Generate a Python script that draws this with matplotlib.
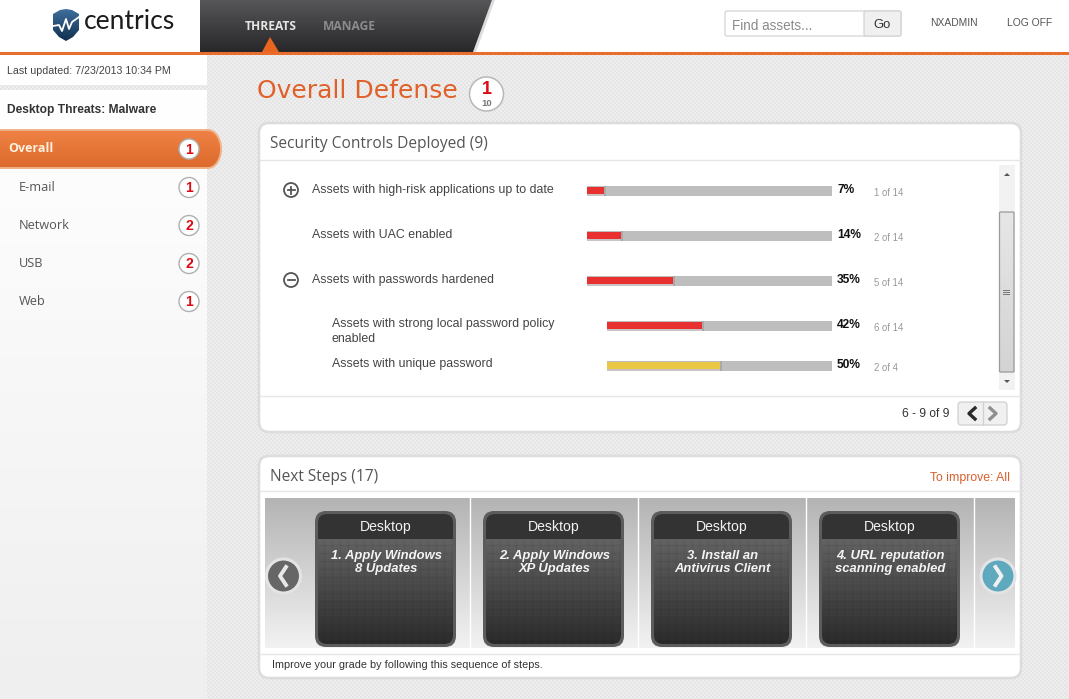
import numpy as np
import matplotlib
matplotlib.use('Agg')
import matplotlib.pyplot as plt
from matplotlib.patches import FancyBboxPatch, Polygon, Circle, Rectangle
from matplotlib.colors import LinearSegmentedColormap

W, H = 1069, 699
SANS = ['Liberation Sans', 'DejaVu Sans']
HEAD = ['Open Sans', 'DejaVu Sans']

# chart values
control_labels = ['Assets with high-risk applications up to date', 'Assets with UAC enabled',
                  'Assets with passwords hardened', 'Assets with strong local password policy\nenabled',
                  'Assets with unique password']
control_pcts = [7, 14, 35, 42, 50]
control_counts = ['1 of 14', '2 of 14', '5 of 14', '6 of 14', '2 of 4']
control_colors = ['#e83030', '#e83030', '#e83030', '#e83030', '#eac845']

nav_labels = ['E-mail', 'Network', 'USB', 'Web']
nav_scores = [1, 2, 2, 1]
step_titles = ['1. Apply Windows\n8 Updates', '2. Apply Windows\nXP Updates',
               '3. Install an\nAntivirus Client', '4. URL reputation\nscanning enabled']

fig = plt.figure(figsize=(W / 100, H / 100), dpi=100)
ax = fig.add_axes([0, 0, 1, 1])


def px(size):
    return size * 72 / 100


def label(x, y, s, size=12, color='#444444', ha='left', va='center', family=SANS, **kw):
    return ax.text(x, y, s, fontsize=px(size), color=color, ha=ha, va=va, family=family, **kw)


def gradient(x0, y0, x1, y1, top, bottom, clip=None, z=1):
    cmap = LinearSegmentedColormap.from_list('g', [top, bottom])
    im = ax.imshow(np.linspace(0, 1, 64).reshape(-1, 1), cmap=cmap, extent=[x0, x1, y1, y0],
                   aspect='auto', zorder=z, interpolation='bilinear')
    if clip is not None:
        im.set_clip_path(clip)
    return im


def rbox(x0, y0, x1, y1, r, **kw):
    p = FancyBboxPatch((x0 + r, y0 + r), x1 - x0 - 2 * r, y1 - y0 - 2 * r,
                       boxstyle='round,pad=%f,rounding_size=%f' % (r, r), **kw)
    ax.add_patch(p)
    return p


def badge(x, y, r, s, size=14, fc='white'):
    ax.add_patch(Circle((x, y), r, fc=fc, ec='#b0b0b0', lw=1.0, zorder=6))
    label(x, y + 0.5, s, size=size, color='#dd0a14', ha='center', weight='bold', zorder=7)


# page background, fine dither
yy, xx = np.mgrid[0:H, 0:W]
ax.imshow(((xx // 2 + yy // 2) % 2) * 0.035 + 0.895, cmap='gray', vmin=0, vmax=1, extent=[0, W, H, 0],
          aspect='auto', zorder=0, interpolation='nearest')

# sidebar
ax.add_patch(Rectangle((0, 55), 207, 30, fc='white', ec='none', zorder=1))
gradient(0, 90, 207, H, '#ffffff', '#efefef', z=1)
label(7, 70.5, 'Last updated: 7/23/2013 10:34 PM', size=10.6, color='#444444', zorder=3)
label(7, 110.5, 'Desktop Threats: Malware', size=12, color='#333333', weight='bold', zorder=3)

theta = np.linspace(-np.pi / 2, np.pi / 2, 30)
sel_xy = [(-2, 130)] + [(208 + 13 * np.cos(t), 149 + 19 * np.sin(t)) for t in theta] + [(-2, 168)]
sel = Polygon(sel_xy, closed=True, fc='none', ec='none')
ax.add_patch(sel)
gradient(-2, 130, 222, 168, '#ee8244', '#dc6a2c', clip=sel, z=2)
ax.add_patch(Polygon(sel_xy, closed=True, fc='none', ec='#f0b088', lw=1.4, zorder=3))
label(8.5, 149, 'Overall', size=12.5, color='#fdf0e0', weight='bold', family=HEAD, zorder=4)
badge(189, 149, 10, '1', fc='white')
for i, (name, score) in enumerate(zip(nav_labels, nav_scores)):
    y = 187 + i * 38
    label(19, y + 0.7, name, size=12.8, color='#555555', family=HEAD, zorder=4)
    badge(189, y + 0.5, 10, str(score))

# top bar
ax.add_patch(Rectangle((0, 0), W, 52, fc='white', ec='none', zorder=2))
ax.add_patch(Polygon([(492, 0), (495, 0), (476, 52), (473, 52)], fc='#dddddd', ec='none', zorder=2))
hdr = Polygon([(200, 0), (492, 0), (473, 52), (200, 52)], closed=True, fc='none', ec='none')
ax.add_patch(hdr)
gradient(200, 0, 500, 52, '#565658', '#28282a', clip=hdr, z=3)
ax.add_patch(Rectangle((0, 52), W, 3, fc='#e96d2f', ec='none', zorder=4))
ax.add_patch(Polygon([(262, 52), (270, 37), (279, 52)], fc='#e8651f', ec='none', zorder=4))
label(270.5, 26, 'THREATS', size=12, color='#e4e4e4', ha='center', weight='bold', family=HEAD, zorder=5)
label(349, 26, 'MANAGE', size=12, color='#8b8b8b', ha='center', weight='bold', family=HEAD, zorder=5)

# logo
shield = Polygon([(53, 14), (60, 10), (66, 9), (72, 10), (79, 14), (79, 30), (73, 37), (66, 41),
                  (59, 37), (53, 30)], closed=True, fc='none', ec='none')
ax.add_patch(shield)
gradient(53, 9, 79, 41, '#3f6f9c', '#10304f', clip=shield, z=3)
ax.plot([53, 59, 62, 66, 69, 72, 79], [26, 25, 31, 19, 29, 22, 17], color='white', lw=1.3, zorder=4)
label(84, 21.5, 'centrics', size=26.5, color='#1c1c1c', family=['Lato', 'DejaVu Sans'], zorder=4)

# search box
rbox(725, 11, 901, 36, 2, fc='white', ec='#d4d4d4', lw=0.9, zorder=3)
rbox(864, 11, 901, 36, 2, fc='#f0f0f0', ec='#d4d4d4', lw=0.9, zorder=4)
label(732, 25.5, 'Find assets...', size=13.5, color='#8a8a8a', zorder=5)
label(882.5, 25.5, 'Go', size=13, color='#333333', ha='center', zorder=5)
label(953.5, 23, 'NXADMIN', size=10.2, color='#555555', ha='center', zorder=5)
label(1029.5, 23, 'LOG OFF', size=10.2, color='#555555', ha='center', zorder=5)

# page title
label(257, 91.5, 'Overall Defense', size=25, color='#e0602a', family=['DejaVu Sans'], zorder=3)
ax.add_patch(Circle((486.5, 94), 17, fc='white', ec='#b8b8b8', lw=1.1, zorder=3))
label(486.5, 90, '1', size=18, color='#dd0a14', ha='center', weight='bold', zorder=4)
label(486.5, 103.5, '10', size=9.5, color='#777777', ha='center', weight='bold', zorder=4)

# controls panel
rbox(259, 123, 1021, 432, 10, fc='white', ec='#dcdcdc', lw=1.8, zorder=2)
ax.plot([260, 1020], [159.5, 159.5], color='#e6e6e6', lw=1, zorder=3)
ax.plot([260, 1020], [395.5, 395.5], color='#e6e6e6', lw=1, zorder=3)
label(270, 144, 'Security Controls Deployed (9)', size=15.5, color='#555555', family=HEAD, zorder=3)

row_y = [190.7, 235.7, 280.7, 325.7, 365.7]
text_y = [189.5, 234.5, 279.5, 324.5, 364.5]
bar_x = [587, 587, 587, 607, 607]
bar_end = 832
for i in range(len(control_pcts)):
    span = bar_end - bar_x[i]
    done = span * control_pcts[i] / 100
    ax.barh(row_y[i], span, left=bar_x[i], height=10, color='#bebebe', zorder=3)
    # soft edge under and after the filled part
    ax.barh(row_y[i] + 4, done, left=bar_x[i], height=2, color='#c9c3c3', zorder=4)
    ax.barh(row_y[i], 2, left=bar_x[i] + done, height=10, color='#a9a9a9', zorder=4)
    ax.barh(row_y[i] - 0.5, done, left=bar_x[i], height=7, color=control_colors[i], zorder=5)
    x_text = 312 if i < 3 else 332
    parts = control_labels[i].split('\n')
    for j, part in enumerate(parts):
        label(x_text, text_y[i] + 14 * j, part, size=12.45, zorder=4)
    label(837, row_y[i] - 0.7, '%d%%' % control_pcts[i], size=12, color='#111111', weight='bold', zorder=4)
    label(874, row_y[i] + 2.3, control_counts[i], size=9.7, color='#999999', zorder=4)

# expand / collapse icons
for y, sym in [(190, '+'), (280, '-')]:
    ax.add_patch(Circle((291, y), 7, fc='white', ec='#555555', lw=1.3, zorder=4))
    ax.plot([287.5, 294.5], [y, y], color='#555555', lw=1.3, zorder=5)
    if sym == '+':
        ax.plot([291, 291], [y - 3.5, y + 3.5], color='#555555', lw=1.3, zorder=5)

# scrollbar
ax.add_patch(Rectangle((999, 165), 16, 225, fc='#f2f2f2', ec='none', zorder=3))
thumb = rbox(999.5, 212, 1014, 372, 1, fc='none', ec='#9a9a9a', lw=0.9, zorder=5)
gradient(1000, 212, 1014, 372, '#e6e6e6', '#d4d4d4', clip=thumb, z=4)
for dy in (-2, 0, 2):
    ax.plot([1003, 1009], [292 + dy, 292 + dy], color='#777777', lw=0.7, zorder=6)
ax.add_patch(Polygon([(1004, 176), (1007, 173), (1010, 176)], fc='#555555', ec='none', zorder=4))
ax.add_patch(Polygon([(1004, 380), (1007, 383), (1010, 380)], fc='#555555', ec='none', zorder=4))

# pager
label(949, 414, '6 - 9 of 9', size=12, color='#333333', ha='right', zorder=4)
rbox(958, 402, 1007, 425, 3, fc='#f0f0f0', ec='#d0d0d0', lw=0.9, zorder=4)
ax.plot([982.5, 982.5], [402, 425], color='#d0d0d0', lw=0.9, zorder=5)
ax.plot([975, 969, 975], [408, 413.5, 419], color='#2a2a2a', lw=2.4, zorder=5)
ax.plot([990, 996, 990], [408, 413.5, 419], color='#8f8f8f', lw=2.4, zorder=5)

# next steps panel
rbox(259, 456, 1021, 678, 10, fc='white', ec='#dcdcdc', lw=1.8, zorder=2)
ax.plot([260, 1020], [490.5, 490.5], color='#e6e6e6', lw=1, zorder=3)
ax.plot([260, 1020], [653.5, 653.5], color='#e6e6e6', lw=1, zorder=3)
label(270, 477, 'Next Steps (17)', size=15.5, color='#555555', family=HEAD, zorder=3)
label(1010, 477.5, 'To improve: All', size=12.2, color='#d8602c', ha='right', zorder=3)
label(272, 665.5, 'Improve your grade by following this sequence of steps.', size=10.9, color='#333333', zorder=3)

gradient(265, 498, 1015, 648, '#b4b4b4', '#f2f2f2', z=3)
for x in (469.5, 637.5, 805.5, 973.5):
    ax.plot([x, x], [498, 648], color='white', lw=1, zorder=4)

for i, title in enumerate(step_titles):
    x0 = 315 + 168 * i
    x1 = x0 + 141
    rbox(x0, 511, x1, 647, 11, fc='#5c5c5c', ec='none', zorder=5)
    inner = rbox(x0 + 3, 514, x1 - 3, 644, 9, fc='none', ec='none', zorder=5)
    gradient(x0 + 3, 539, x1 - 3, 644, '#626262', '#2c2c2c', clip=inner, z=6)
    # mosaic texture on the card
    for gx in range(x0 + 9, x1 - 3, 8):
        ln, = ax.plot([gx, gx], [539, 644], color='black', alpha=0.05, lw=0.8, zorder=6.5)
        ln.set_clip_path(inner)
    for gy in range(545, 644, 8):
        ln, = ax.plot([x0 + 3, x1 - 3], [gy, gy], color='black', alpha=0.05, lw=0.8, zorder=6.5)
        ln.set_clip_path(inner)
    ax.add_patch(Rectangle((x0 + 3, 514), 135, 25, fc='#333333', ec='none', zorder=7)).set_clip_path(inner)
    label(x0 + 71, 527, 'Desktop', size=14, color='#f2f2f2', ha='center', zorder=8)
    line1, line2 = title.split('\n')
    label(x0 + 71.5, 556, line1, size=13, color='#f4f4f4', ha='center', weight='bold',
          style='italic', zorder=8)
    label(x0 + 71.5, 569, line2, size=13, color='#f4f4f4', ha='center', weight='bold',
          style='italic', zorder=8)

# carousel buttons
ax.add_patch(Circle((283.5, 576), 17, fc='#666666', ec='#e4e4e4', lw=2.2, zorder=6))
ax.plot([286, 280, 286], [567, 576, 585], color='#e8e8e8', lw=2.8, zorder=7)
ax.add_patch(Circle((998, 576), 17, fc='#5fa9bf', ec='#e4e4e4', lw=2.2, zorder=6))
ax.plot([995.5, 1001.5, 995.5], [567, 576, 585], color='#f0f0f0', lw=2.8, zorder=7)

ax.set_xlim(0, W)
ax.set_ylim(H, 0)
ax.axis('off')
fig.savefig('out.png', dpi=100)
